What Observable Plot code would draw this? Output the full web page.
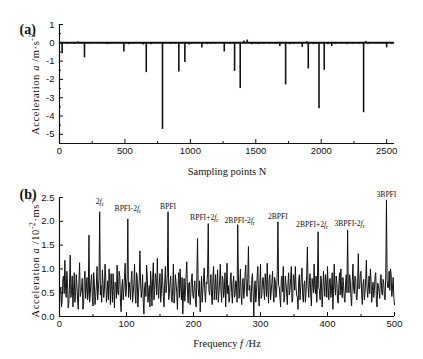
<!DOCTYPE html>
<html><head><meta charset="utf-8">
<script src="https://cdn.jsdelivr.net/npm/d3@7"></script>
<script src="https://cdn.jsdelivr.net/npm/@observablehq/plot@0.6"></script>
<style>
body{margin:0;background:#fff;}
#chart{width:423px;height:359px;overflow:hidden;}
#chart svg{display:block;}
</style></head><body><div id="chart"></div>
<script>
// ---- Panel (a): time signal spikes ----
const spikeN = [20, 191, 492, 663, 787, 912, 958, 1088, 1259, 1338, 1381, 1684, 1728, 1855, 1901, 1983, 2023, 2080, 2324, 2500,
  60, 110, 140, 230, 300, 360, 380, 420, 530, 560, 620, 640, 700, 730, 850, 880, 990, 1010, 1130, 1150, 1190, 1300, 1410, 1435,
  1470, 1500, 1520, 1560, 1600, 1650, 1760, 1790, 1830, 1890, 1940, 1960, 2050, 2110, 2160, 2200, 2240, 2290, 2340, 2360, 2420, 2540];
const spikeA = [-0.6, -0.82, -0.5, -1.63, -4.73, -1.6, -1.07, -0.29, -0.5, -1.56, -2.5, -0.2, -2.3, -0.25, -1.43, -3.6, -1.5, -0.2, -3.82, -0.28,
  -0.08, -0.06, 0.05, -0.07, -0.05, -0.1, -0.08, -0.06, -0.1, -0.08, -0.07, -0.12, -0.1, -0.06, -0.08, -0.06, -0.12, -0.07, -0.1, -0.08, -0.06, -0.08, 0.1, 0.15,
  -0.1, -0.08, -0.1, -0.07, -0.06, -0.08, -0.1, -0.08, -0.06, 0.06, -0.1, -0.08, -0.1, -0.08, -0.07, -0.1, -0.06, -0.07, 0.08, -0.07, -0.05, -0.08];
const topXTicks = [0, 500, 1000, 1500, 2000, 2500];
const topXMinor = [250, 750, 1250, 1750, 2250];
const topYTicks = [1, 0, -1, -2, -3, -4, -5];
const topYMinor = [0.5, -0.5, -1.5, -2.5, -3.5, -4.5];

// ---- Panel (b): spectrum amplitudes at even frequencies 0,2,...,500 Hz ----
const specEven = [
 0.25, 0.62, 0.35, 0.85, 1.18, 0.40, 0.72, 0.30, 1.29, 0.55,
 0.20, 0.92, 0.45, 0.68, 0.15, 1.13, 0.50, 0.80, 0.28, 0.95,
 0.60, 0.35, 1.71, 0.48, 0.88, 0.22, 0.70, 0.42, 1.05, 0.58,
 2.20, 0.65, 0.98, 0.40, 1.10, 0.30, 0.75, 1.00, 0.25, 0.62,
 0.90, 0.18, 0.70, 1.08, 0.45, 0.85, 0.10, 0.78, 0.52, 1.12,
 0.60, 2.05, 0.72, 0.35, 0.95, 0.48, 1.10, 0.28, 0.82, 0.50,
 1.38, 0.40, 0.88, 0.05, 0.72, 1.08, 0.30, 0.65, 0.95, 0.22,
 1.13, 0.55, 0.80, 1.22, 0.38, 0.90, 0.48, 0.75, 0.20, 1.05,
 0.65, 2.20, 0.50, 0.85, 0.30, 1.10, 0.45, 0.70, 0.15, 0.92,
 1.00, 0.35, 0.05, 0.80, 0.55, 1.15, 0.28, 0.72, 0.48, 0.90,
 0.38, 0.75, 0.20, 1.64, 0.42, 0.10, 0.85, 0.55, 1.02, 0.30,
 0.68, 1.95, 0.45, 0.88, 0.25, 1.05, 0.60, 0.35, 0.98, 0.50,
 1.10, 0.30, 0.78, 0.55, 0.20, 1.12, 0.65, 0.40, 0.92, 0.28,
 0.85, 0.45, 0.72, 1.93, 0.38, 1.00, 0.25, 0.80, 0.55, 1.08,
 0.42, 1.47, 0.65, 0.30, 0.90, 0.00, 0.75, 0.50, 1.05, 0.22,
 1.10, 0.45, 0.82, 0.35, 0.70, 1.12, 0.28, 0.88, 0.52, 0.95,
 0.30, 0.75, 0.48, 1.99, 0.62, 0.20, 0.85, 1.05, 0.40, 0.70,
 0.25, 0.92, 0.55, 1.05, 0.35, 0.80, 1.05, 0.45, 0.15, 0.88,
 0.60, 1.02, 0.30, 0.75, 0.50, 1.46, 0.40, 0.90, 0.22, 0.68,
 1.10, 0.48, 0.30, 1.78, 0.55, 0.85, 0.20, 0.95, 0.42, 0.72,
 1.05, 0.35, 0.80, 0.55, 0.15, 1.10, 0.45, 0.70, 0.28, 0.92,
 1.00, 0.40, 0.65, 0.30, 0.88, 1.82, 0.50, 0.75, 0.22, 1.10,
 0.48, 0.82, 0.35, 1.32, 0.60, 0.95, 0.25, 0.78, 0.50, 1.18,
 0.40, 0.85, 1.00, 0.30, 0.72, 0.55, 0.92, 0.20, 0.65, 0.38,
 0.88, 0.45, 0.70, 0.35, 2.45, 0.60, 0.95, 1.00, 0.42, 0.82,
 0.25];
// ---- spectrum amplitudes at odd frequencies 1,3,...,499 Hz ----
const specOdd = [
 0.55, 0.20, 0.78, 0.48, 0.62, 0.95, 0.18, 0.70, 0.40, 0.85,
 0.52, 0.30, 0.88, 0.35, 0.72, 0.42, 0.60, 0.15, 0.78, 0.38,
 0.82, 0.50, 0.30, 0.75, 0.40, 0.92, 0.25, 0.65, 0.35, 0.80,
 0.45, 0.30, 0.70, 0.55, 0.82, 0.48, 0.35, 0.68, 0.90, 0.30,
 0.55, 0.72, 0.38, 0.50, 0.95, 0.30, 0.62, 0.35, 0.85, 0.42,
 0.85, 0.40, 0.58, 0.80, 0.30, 0.70, 0.45, 0.92, 0.20, 0.75,
 0.72, 0.55, 0.30, 0.60, 0.42, 0.85, 0.50, 0.20, 0.68, 0.80,
 0.35, 0.90, 0.45, 0.60, 0.72, 0.30, 1.00, 0.42, 0.70, 0.50,
 0.90, 0.35, 0.72, 0.40, 0.60, 0.28, 0.88, 0.50, 0.65, 0.40,
 0.60, 0.82, 0.45, 0.32, 0.90, 0.50, 0.70, 0.25, 0.80, 0.45,
 0.62, 0.28, 0.85, 0.60, 0.75, 0.45, 0.30, 0.80, 0.48, 0.72,
 0.90, 0.55, 0.70, 0.40, 0.82, 0.35, 0.88, 0.62, 0.30, 0.75,
 0.55, 0.85, 0.40, 0.92, 0.60, 0.48, 0.30, 0.80, 0.50, 0.70,
 0.40, 0.75, 0.30, 0.85, 0.60, 0.45, 0.72, 0.38, 0.90, 0.50,
 0.80, 0.55, 0.35, 0.78, 0.50, 0.62, 0.30, 0.85, 0.45, 0.70,
 0.38, 0.75, 0.55, 0.90, 0.42, 0.60, 0.80, 0.35, 0.72, 0.50,
 0.82, 0.40, 0.95, 0.65, 0.40, 0.78, 0.52, 0.30, 0.85, 0.48,
 0.70, 0.45, 0.80, 0.30, 0.88, 0.55, 0.62, 0.40, 0.75, 0.35,
 0.85, 0.40, 0.68, 0.30, 0.90, 0.62, 0.75, 0.45, 0.80, 0.50,
 0.62, 0.85, 0.70, 0.60, 0.35, 0.72, 0.50, 0.65, 0.88, 0.40,
 0.60, 0.78, 0.40, 0.92, 0.55, 0.62, 0.85, 0.35, 0.70, 0.45,
 0.55, 0.82, 0.38, 0.70, 0.50, 0.65, 0.88, 0.40, 0.75, 0.60,
 0.85, 0.40, 0.72, 0.58, 0.90, 0.45, 0.68, 0.35, 0.80, 0.60,
 0.62, 0.48, 0.75, 0.55, 0.40, 0.85, 0.30, 0.70, 0.50, 0.82,
 0.50, 0.78, 0.40, 0.90, 0.75, 0.62, 0.55, 0.88, 0.60, 0.40];
const peakLabels = ["2f_r", "BPFI-2f_r", "BPFI", "BPFI+2f_r", "2BPFI-2f_r", "2BPFI", "2BPFI+2f_r", "3BPFI-2f_r", "3BPFI"];
const peakFreqs  = [60, 102, 162, 222, 266, 326, 386, 430, 488];
const botXTicks = [0, 100, 200, 300, 400, 500];
const botXMinor = [50, 150, 250, 350, 450];
const botYTicks = [0, 0.5, 1.0, 1.5, 2.0, 2.5];

const ink = "#111";
const serif = "'Liberation Serif', 'Times New Roman', serif";
const baseStyle = {fontFamily: "'Liberation Sans', Arial, sans-serif", fontSize: "9.5px", color: ink, background: "white", overflow: "visible"};

const spikes = spikeN.map((n, i) => ({n, a: spikeA[i]}));
const spectrum = [
  ...specEven.map((a, i) => ({f: 2 * i, a})),
  ...specOdd.map((a, i) => ({f: 2 * i + 1, a}))
].sort((p, q) => p.f - q.f);
const labelsData = peakLabels.map((t, i) => ({t, f: peakFreqs[i], a: specEven[peakFreqs[i] / 2]}));
// small label nudges (pixels) to avoid collisions, as in the original figure
const nudge = {"2f_r": [0, -5], "BPFI-2f_r": [0, -5], "BPFI+2f_r": [-4, -1], "2BPFI-2f_r": [2, 1], "2BPFI+2f_r": [-6, -2], "3BPFI-2f_r": [2, -1]};

const topPlot = Plot.plot({
  width: 423, height: 180,
  marginLeft: 59, marginRight: 29, marginTop: 24, marginBottom: 37,
  x: {domain: [0, 2560]},
  y: {domain: [-5.5, 1]},
  style: baseStyle,
  marks: [
    Plot.ruleY([0], {stroke: ink, strokeWidth: 2}),
    Plot.ruleX(spikes, {x: "n", y1: 0, y2: "a", stroke: ink, strokeWidth: 1.6}),
    Plot.ruleX([0], {stroke: ink, strokeWidth: 1.2}),
    Plot.ruleY([-5.5], {stroke: ink, strokeWidth: 1.2}),
    Plot.axisX({ticks: topXTicks, tickSize: -4, tickPadding: 8, tickFormat: d => String(d),
      label: "Sampling points N", labelAnchor: "center", labelArrow: "none", labelOffset: 31}),
    Plot.axisX({ticks: topXMinor, tickSize: -2, text: null, label: null}),
    Plot.axisY({ticks: topYTicks, tickSize: -4, tickPadding: 9, tickFormat: d => String(d),
      label: "Acceleration a /m·s-2", labelAnchor: "center", labelArrow: "none", labelOffset: 28}),
    Plot.axisY({ticks: topYMinor, tickSize: -2, text: null, label: null}),
    Plot.text(["(a)"], {frameAnchor: "top-left", text: d => d, dx: -40, dy: 0, fontSize: 14, fontWeight: "bold", fontFamily: serif, fill: ink})
  ]
});

const botPlot = Plot.plot({
  width: 423, height: 179,
  marginLeft: 59, marginRight: 29, marginTop: 17, marginBottom: 43,
  x: {domain: [0, 500]},
  y: {domain: [0, 2.5]},
  style: baseStyle,
  marks: [
    Plot.line(spectrum, {x: "f", y: "a", stroke: ink, strokeWidth: 1}),
    Plot.ruleX([0], {stroke: ink, strokeWidth: 1.2}),
    Plot.ruleY([0], {stroke: ink, strokeWidth: 1.2}),
    ...labelsData.map(d => Plot.text([d], {x: "f", y: "a", text: "t",
      dx: (nudge[d.t] || [0, 0])[0], dy: -3 + (nudge[d.t] || [0, 0])[1],
      lineAnchor: "bottom", fontSize: 7.6, fontFamily: serif, fill: ink})),
    Plot.axisX({ticks: botXTicks, tickSize: -4, tickPadding: 8, tickFormat: d => String(d),
      label: "Frequency f /Hz", labelAnchor: "center", labelArrow: "none", labelOffset: 30}),
    Plot.axisX({ticks: botXMinor, tickSize: -2, text: null, label: null}),
    Plot.axisY({ticks: botYTicks, tickSize: -4, tickPadding: 9, tickFormat: d => d.toFixed(1),
      label: "Acceleration a /10-2·ms-2", labelAnchor: "center", labelArrow: "none", labelOffset: 28}),
    Plot.text(["(b)"], {frameAnchor: "top-left", text: d => d, dx: -40, dy: -8, fontSize: 14, fontWeight: "bold", fontFamily: serif, fill: ink})
  ]
});

const root = document.getElementById("chart");
root.appendChild(topPlot);
root.appendChild(botPlot);

function rich(el, parts, fontSize) {
  const sel = d3.select(el);
  sel.text(null).attr("font-family", serif).attr("font-size", fontSize).attr("font-weight", "normal");
  let shift = 0;
  for (const [s, st] of parts) {
    const t = sel.append("tspan").text(s);
    let target = 0;
    if (st === "i") t.attr("font-style", "italic");
    if (st === "sup") { target = -4; t.attr("font-size", fontSize * 0.72); }
    if (st === "sub") { target = 2.5; t.attr("font-size", fontSize * 0.8); }
    if (target !== shift) { t.attr("dy", target - shift); shift = target; }
  }
}

function labelText(svg, name) {
  const g = svg.querySelector(`[aria-label="${name}"]`);
  return g ? g.querySelector("text") : null;
}

let el;
el = labelText(topPlot, "x-axis label");
if (el) rich(el, [["Sampling points N", ""]], 10.5);
el = labelText(topPlot, "y-axis label");
if (el) { rich(el, [["Acceleration ", ""], ["a", "i"], [" /m·s", ""], ["-2", "sup"]], 10.5); el.setAttribute("letter-spacing", "0.6"); }
el = labelText(botPlot, "x-axis label");
if (el) rich(el, [["Frequency ", ""], ["f", "i"], [" /Hz", ""]], 10.5);
el = labelText(botPlot, "y-axis label");
if (el) { rich(el, [["Acceleration ", ""], ["a", "i"], [" /10", ""], ["-2", "sup"], ["·ms", ""], ["-2", "sup"]], 10.5); el.setAttribute("letter-spacing", "0.6"); }

botPlot.querySelectorAll("text").forEach(t => {
  const s = t.textContent;
  if (s.includes("f_r")) {
    const pre = s.slice(0, s.indexOf("f_r"));
    rich(t, [[pre, ""], ["f", "i"], ["r", "sub"]], 7.6);
  }
});
</script></body></html>
